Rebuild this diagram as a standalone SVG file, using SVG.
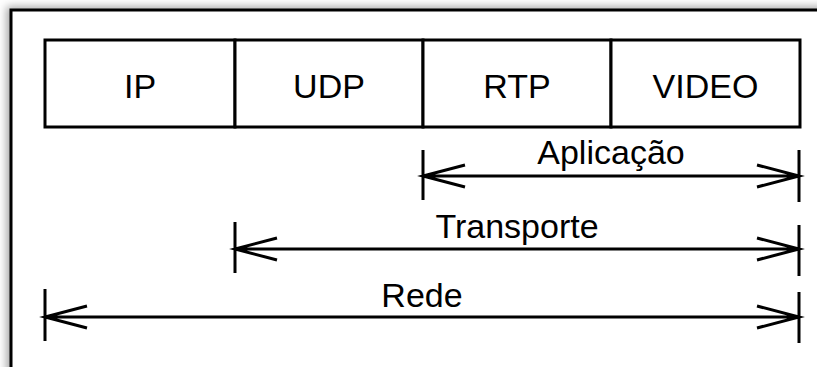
<svg xmlns="http://www.w3.org/2000/svg" width="817" height="367" viewBox="0 0 817 367">
<defs>
<filter id="sh" x="-10%" y="-10%" width="120%" height="120%">
<feDropShadow dx="-3" dy="-2" stdDeviation="4" flood-color="#000" flood-opacity="0.35"/>
</filter>
<style>
.ln{stroke:#000;stroke-width:3;fill:none;stroke-linecap:butt}
.bx{stroke:#000;stroke-width:3;fill:#fff}
.t{font-family:"Liberation Sans",Arial,sans-serif;font-size:34px;fill:#000;text-anchor:middle}
</style>
</defs>
<rect width="817" height="367" fill="#fff"/>
<rect x="11" y="10" width="830" height="380" fill="#fff" stroke="#000" stroke-width="3" filter="url(#sh)"/>
<g id="ip"><rect class="bx" x="45" y="40" width="190" height="87"/><text class="t" x="140" y="98">IP</text></g>
<g id="udp"><rect class="bx" x="235" y="40" width="188" height="87"/><text class="t" x="329" y="98">UDP</text></g>
<g id="rtp"><rect class="bx" x="423" y="40" width="188" height="87"/><text class="t" x="517" y="98">RTP</text></g>
<g id="video"><rect class="bx" x="611" y="40" width="189" height="87"/><text class="t" x="705.5" y="98">VIDEO</text></g>
<g id="connectors">
<path class="ln" d="M423,150V200 M799,150V202 M423,176H799 M465,165L423,176L465,187 M757,165L799,176L757,187"/>
<path class="ln" d="M235,222V273 M799,225V276 M235,249H799 M277,238L235,249L277,260 M757,238L799,249L757,260"/>
<path class="ln" d="M45,289V341 M799,292V343 M45,317H799 M87,306L45,317L87,328 M757,306L799,317L757,328"/>
</g>
<g id="labels">
<text class="t" x="611" y="164">Aplicação</text>
<text class="t" x="517" y="238">Transporte</text>
<text class="t" x="422" y="307">Rede</text>
</g>
</svg>
